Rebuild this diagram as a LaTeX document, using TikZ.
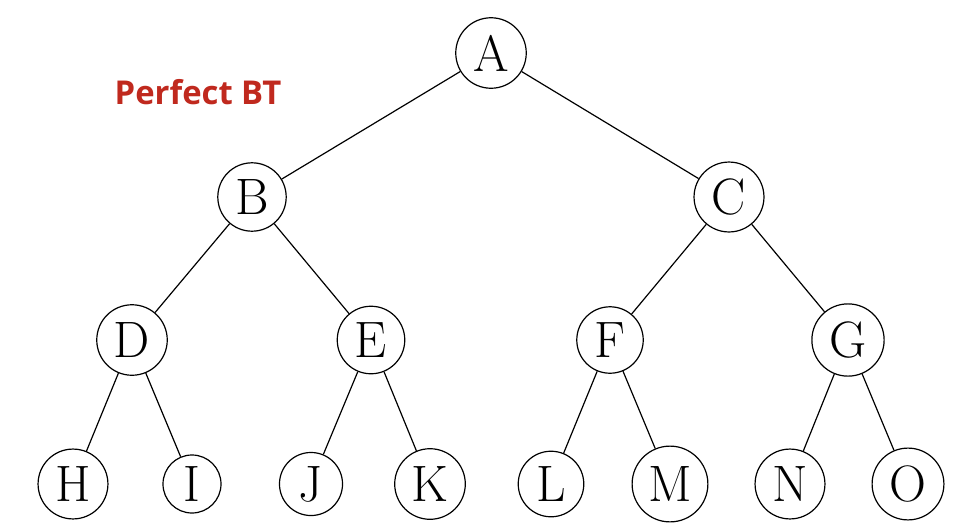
\documentclass[tikz,border=0pt]{standalone}
\usepackage{fontspec}
\newfontfamily\labelfont{Open Sans}
\definecolor{titlered}{RGB}{192,41,30}
\begin{document}
\begin{tikzpicture}[x=0.5pt,y=-0.5pt,
  tnode/.style={circle,draw,line width=0.6pt,inner sep=3.55pt,font=\fontsize{25.6}{30}\selectfont},
  edge/.style={line width=0.6pt}]
\useasboundingbox (0,0) rectangle (968,530);
\node[tnode] (A) at (491,53) {A};
\node[tnode] (B) at (252,197) {B};
\node[tnode] (C) at (729,197) {C};
\node[tnode] (D) at (132,340) {D};
\node[tnode] (E) at (371,340) {E};
\node[tnode] (F) at (610,340) {F};
\node[tnode] (G) at (848,340) {G};
\node[tnode] (H) at (73,484) {H};
\node[tnode] (I) at (192,484) {I};
\node[tnode] (J) at (311,484) {J};
\node[tnode] (K) at (430,484) {K};
\node[tnode] (L) at (551,484) {L};
\node[tnode] (M) at (670,484) {M};
\node[tnode] (N) at (790,484) {N};
\node[tnode] (O) at (908,484) {O};
\foreach \a/\b in {A/B,A/C,B/D,B/E,C/F,C/G,D/H,D/I,E/J,E/K,F/L,F/M,G/N,G/O}
  \draw[edge] (\a) -- (\b);
\node[font=\labelfont\bfseries\fontsize{16.4}{19}\selectfont,text=titlered,inner sep=0pt] (title) at (198,92) {Perfect BT};
\end{tikzpicture}
\end{document}
